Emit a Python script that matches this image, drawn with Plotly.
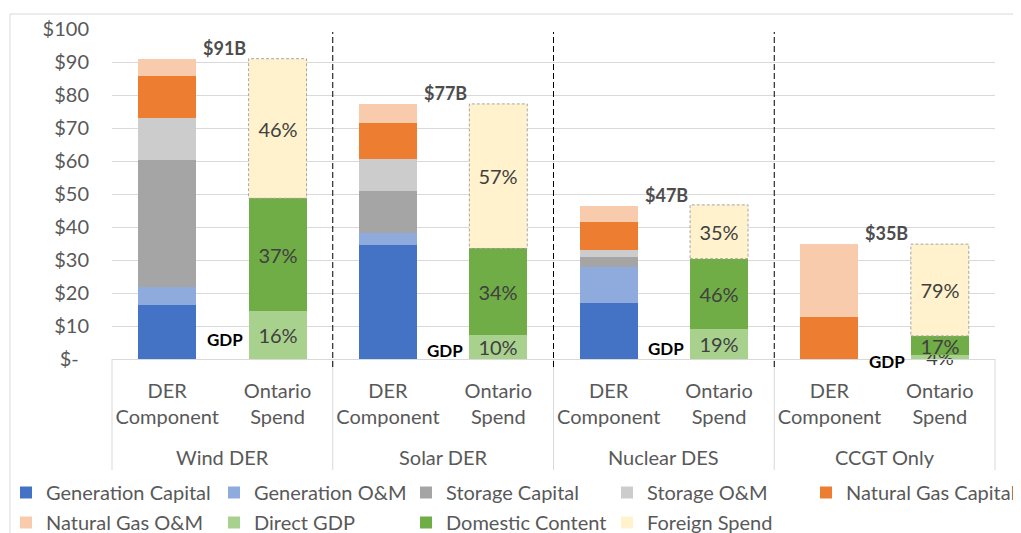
import plotly.graph_objects as go

# ---------------- data ----------------
groups = ["Wind DER", "Solar DER", "Nuclear DES", "CCGT Only"]
sub_categories = ["DER Component", "Ontario Spend"]

y_tick_values = [0, 10, 20, 30, 40, 50, 60, 70, 80, 90, 100]
y_tick_labels = ["$-\u00a0\u00a0", "$10", "$20", "$30", "$40", "$50",
                 "$60", "$70", "$80", "$90", "$100"]

generation_capital = [16.4, 34.5, 16.9, 0.0]
generation_om = [5.3, 3.8, 10.9, 0.0]
storage_capital = [38.6, 12.7, 3.1, 0.0]
storage_om = [12.6, 9.6, 2.1, 0.0]
natural_gas_capital = [12.9, 11.0, 8.6, 12.8]
natural_gas_om = [5.2, 5.7, 4.9, 22.0]

direct_gdp = [14.5, 7.3, 9.0, 1.2]
domestic_content = [34.2, 26.2, 21.4, 5.8]
foreign_spend = [42.3, 43.8, 16.3, 27.8]

direct_gdp_pct = ["16%", "10%", "19%", "4%"]
domestic_pct = ["37%", "34%", "46%", "17%"]
foreign_pct = ["46%", "57%", "35%", "79%"]

total_labels = ["$91B", "$77B", "$47B", "$35B"]

# ---------------- layout geometry (reference pixel coordinates) ----------------
# the page body has an 8px margin, so the figure starts at (8, 8) of the window
OFF = 8
WIN_W, WIN_H = 1021, 533
W, H = WIN_W - OFF, WIN_H - OFF
PL, PR, PT, PB = 112, 1021, 29, 359
AX_RIGHT = 995
FONT = "Lato"
GRID = "#d9d9d9"
TXT = "#595959"
FS = 20


def paper_x(px):
    return (px - PL) / (PR - PL)


def paper_y(py):
    return (PB - py) / (PB - PT)


DOM_END = paper_x(AX_RIGHT)
N_CAT = len(groups) * len(sub_categories)


def cat_to_paper(c):
    return (c + 0.5) / N_CAT * DOM_END


der_x = [2 * i for i in range(len(groups))]
ont_x = [2 * i + 1 for i in range(len(groups))]
BAR_W = 0.525

# legend column widths (item pitch minus symbol/text gap)
COL_W = [163, 147, 156, 154, 172]

fig = go.Figure()

der_series = [
    ("Generation Capital", generation_capital, "#4472c4"),
    ("Generation O&M", generation_om, "#8faadc"),
    ("Storage Capital", storage_capital, "#a5a5a5"),
    ("Storage O&M", storage_om, "#cccccc"),
    ("Natural Gas Capital", natural_gas_capital, "#ed7d31"),
    ("Natural Gas O&M", natural_gas_om, "#f8cbad"),
]
ont_series = [
    ("Direct GDP", direct_gdp, "#a9d18e", direct_gdp_pct),
    ("Domestic Content", domestic_content, "#70ad47", domestic_pct),
    ("Foreign Spend", foreign_spend, "#fff2cc", foreign_pct),
]

k = 0
for name, vals, col in der_series:
    leg = "legend" if k < 5 else "legend2"
    fig.add_trace(go.Bar(name=name, x=der_x, y=vals, width=BAR_W,
                         legend=leg, legendwidth=COL_W[k % 5],
                         marker=dict(color=col, line=dict(width=0))))
    k += 1

for name, vals, col, pct in ont_series:
    fig.add_trace(go.Bar(name=name, x=ont_x, y=vals, width=BAR_W, text=pct,
                         textposition="inside", insidetextanchor="middle",
                         textangle=0, constraintext="none", cliponaxis=False,
                         textfont=dict(family=FONT, size=FS, color="#404040"),
                         legend="legend2", legendwidth=COL_W[k % 5],
                         marker=dict(color=col, line=dict(width=0))))
    k += 1

shapes = []
annotations = []

# dashed outline around foreign spend segments
for i in range(len(groups)):
    base = direct_gdp[i] + domestic_content[i]
    shapes.append(dict(type="rect", xref="x", yref="y",
                       x0=ont_x[i] - BAR_W / 2, x1=ont_x[i] + BAR_W / 2,
                       y0=base, y1=base + foreign_spend[i],
                       line=dict(color="#a6a6a6", width=1, dash="3px,2px"),
                       fillcolor="rgba(0,0,0,0)", layer="above"))

# category dividers below axis
for b in [-0.5, 1.5, 3.5, 5.5, 7.5]:
    shapes.append(dict(type="line", xref="paper", yref="paper",
                       x0=cat_to_paper(b), x1=cat_to_paper(b),
                       y0=paper_y(359), y1=paper_y(470),
                       line=dict(color=GRID, width=1)))

# dashed separators between groups
for b in [1.5, 3.5, 5.5]:
    shapes.append(dict(type="line", xref="paper", yref="paper",
                       x0=cat_to_paper(b), x1=cat_to_paper(b),
                       y0=paper_y(367), y1=paper_y(32),
                       line=dict(color="#000000", width=1, dash="6px,3px")))

# chart outer border (top and left visible)
shapes.append(dict(type="line", xref="paper", yref="paper",
                   x0=paper_x(10), x1=paper_x(1021), y0=paper_y(14), y1=paper_y(14),
                   line=dict(color=GRID, width=1)))
shapes.append(dict(type="line", xref="paper", yref="paper",
                   x0=paper_x(10), x1=paper_x(10), y0=paper_y(14), y1=paper_y(533),
                   line=dict(color=GRID, width=1)))

# group labels, totals and GDP labels
for i, g in enumerate(groups):
    center = 2 * i + 0.5
    annotations.append(dict(x=center, xref="x", y=paper_y(457), yref="paper",
                            text=g, showarrow=False, yanchor="middle",
                            font=dict(family=FONT, size=FS, color=TXT)))
    total = (generation_capital[i] + generation_om[i] + storage_capital[i] +
             storage_om[i] + natural_gas_capital[i] + natural_gas_om[i])
    annotations.append(dict(x=center + 0.02, xref="x", y=total, yref="y",
                            text="<b>" + total_labels[i] + "</b>", showarrow=False,
                            yanchor="bottom", yshift=-2,
                            font=dict(family=FONT, size=18, color="#4d4d4d")))
    annotations.append(dict(x=center + 0.02, xref="x", y=direct_gdp[i] / 2, yref="y",
                            text="<b>GDP</b>", showarrow=False, yanchor="middle",
                            yshift=-4,
                            font=dict(family=FONT, size=17, color="#000000")))

tick_text = []
for g in groups:
    for s in sub_categories:
        tick_text.append(s.replace(" ", "<br>"))

legend_common = dict(orientation="h", xref="paper", yref="paper",
                     x=paper_x(6), xanchor="left", yanchor="top",
                     traceorder="normal", entrywidthmode="pixels",
                     font=dict(family=FONT, size=FS, color=TXT),
                     bgcolor="rgba(0,0,0,0)")

fig.update_layout(
    width=W, height=H,
    margin=dict(l=PL - OFF, r=WIN_W - PR, t=PT - OFF, b=WIN_H - PB, autoexpand=False),
    paper_bgcolor="white", plot_bgcolor="white",
    barmode="stack", bargap=0,
    font=dict(family=FONT, size=FS, color=TXT),
    showlegend=True,
    legend=dict(y=paper_y(473), **legend_common),
    legend2=dict(y=paper_y(503), **legend_common),
    shapes=shapes,
    annotations=annotations,
)
fig.update_xaxes(domain=[0, DOM_END], range=[-0.5, N_CAT - 0.5],
                 tickmode="array", tickvals=list(range(N_CAT)), ticktext=tick_text,
                 showgrid=False, zeroline=False, showline=True, linecolor=GRID,
                 linewidth=1, ticks="", ticklabelstandoff=14,
                 tickfont=dict(family=FONT, size=FS, color=TXT))
fig.update_yaxes(range=[0, 100], tickmode="array", tickvals=y_tick_values,
                 ticktext=y_tick_labels, showgrid=True, gridcolor=GRID, gridwidth=1,
                 zeroline=False, showline=False, ticks="", ticklabelstandoff=22,
                 tickfont=dict(family=FONT, size=FS, color=TXT))

fig.write_html("out.html")
